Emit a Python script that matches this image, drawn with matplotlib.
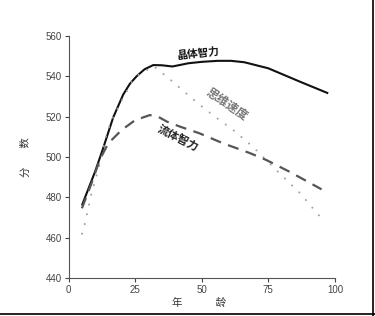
import matplotlib
matplotlib.use("Agg")
import matplotlib.pyplot as plt
from matplotlib.lines import Line2D

plt.rcParams['font.family'] = ['Noto Sans CJK SC', 'DejaVu Sans']

# Crystallized intelligence (solid)
cryst_age = [5, 7.5, 10, 13, 16.7, 20.5, 23, 25.5, 28.5, 31.8, 35, 39, 45, 50, 56, 61, 66, 75, 87, 97.5]
cryst_val = [476, 484.5, 493, 504.5, 519.5, 531, 536.3, 540, 543.5, 545.6, 545.5, 544.9, 546.5, 547.2, 547.7, 547.7, 547, 544, 537.3, 531.6]

# Processing speed (dotted)
speed_age = [5, 6.1, 8.6, 11.8, 14.3, 16.1, 19.9, 23.7, 26.1, 30.5, 32, 35, 38, 42, 49.3, 56, 61.8, 69.3, 78, 87, 95.8]
speed_val = [462, 467, 482, 497, 511.7, 518, 528, 537, 540.6, 544, 545, 541.8, 538.6, 534, 525.8, 519, 513.4, 505, 493.5, 482, 468.3]

# Fluid intelligence (dashed)
fluid_age = [5, 8.6, 11.8, 14.9, 19.9, 25, 30.5, 33.6, 37, 42, 49.3, 58, 61.8, 68, 74.3, 83, 95]
fluid_val = [474.6, 487, 499, 506.8, 513.4, 518.3, 520.8, 520, 517.5, 515, 511.7, 506.8, 505, 502, 498.5, 492.7, 484]

xticks = [0, 25, 50, 75, 100]
yticks = [440, 460, 480, 500, 520, 540, 560]

fig = plt.figure(figsize=(3.75, 3.16), dpi=100)
ax = fig.add_axes([0.183, 0.120, 0.710, 0.766])

ax.plot(cryst_age, cryst_val, color='#111111', lw=1.5, solid_capstyle='butt', solid_joinstyle='round')
ax.plot(speed_age, speed_val, color='#a0a0a0', lw=1.5, linestyle=(0, (0.01, 4.8)), dash_capstyle='round')
ax.plot(fluid_age, fluid_val, color='#555555', lw=1.6, linestyle=(0, (5, 3.4)))

ax.set_xlim(0, 100)
ax.set_ylim(440, 560)
ax.set_xticks(xticks)
ax.set_yticks(yticks)
ax.tick_params(labelsize=7, colors='#444444', length=3, width=0.8, pad=2)
for lbl in ax.get_xticklabels() + ax.get_yticklabels():
    lbl.set_family(['Liberation Sans', 'DejaVu Sans'])
for s in ['top', 'right']:
    ax.spines[s].set_visible(False)
for s in ['left', 'bottom']:
    ax.spines[s].set_color('#555555')
    ax.spines[s].set_linewidth(0.8)

ax.text(48.7, 551.4, '晶体智力', fontsize=7.7, fontweight='bold', rotation=6, ha='center', va='center', color='#111111')
ax.text(59.3, 526.3, '思维速度', fontsize=8.6, fontweight='bold', rotation=-34, ha='center', va='center', color='#777777')
ax.text(40.8, 508.8, '流体智力', fontsize=8, fontweight='bold', rotation=-27, ha='center', va='center', color='#222222')

fig.text(26/375, 1 - 157/316, '分        数', rotation=90, fontsize=7.5, ha='center', va='center', color='#333333')
fig.text(199/375, 1 - 303/316, '年              龄', fontsize=7.5, ha='center', va='center', color='#333333')

fig.add_artist(Line2D([372.5/375, 372.5/375], [0, 1], transform=fig.transFigure, color='black', lw=1.2))
fig.add_artist(Line2D([0, 1], [1 - 313.5/316, 1 - 313.5/316], transform=fig.transFigure, color='black', lw=1.2))

fig.savefig('out.png', dpi=100)
